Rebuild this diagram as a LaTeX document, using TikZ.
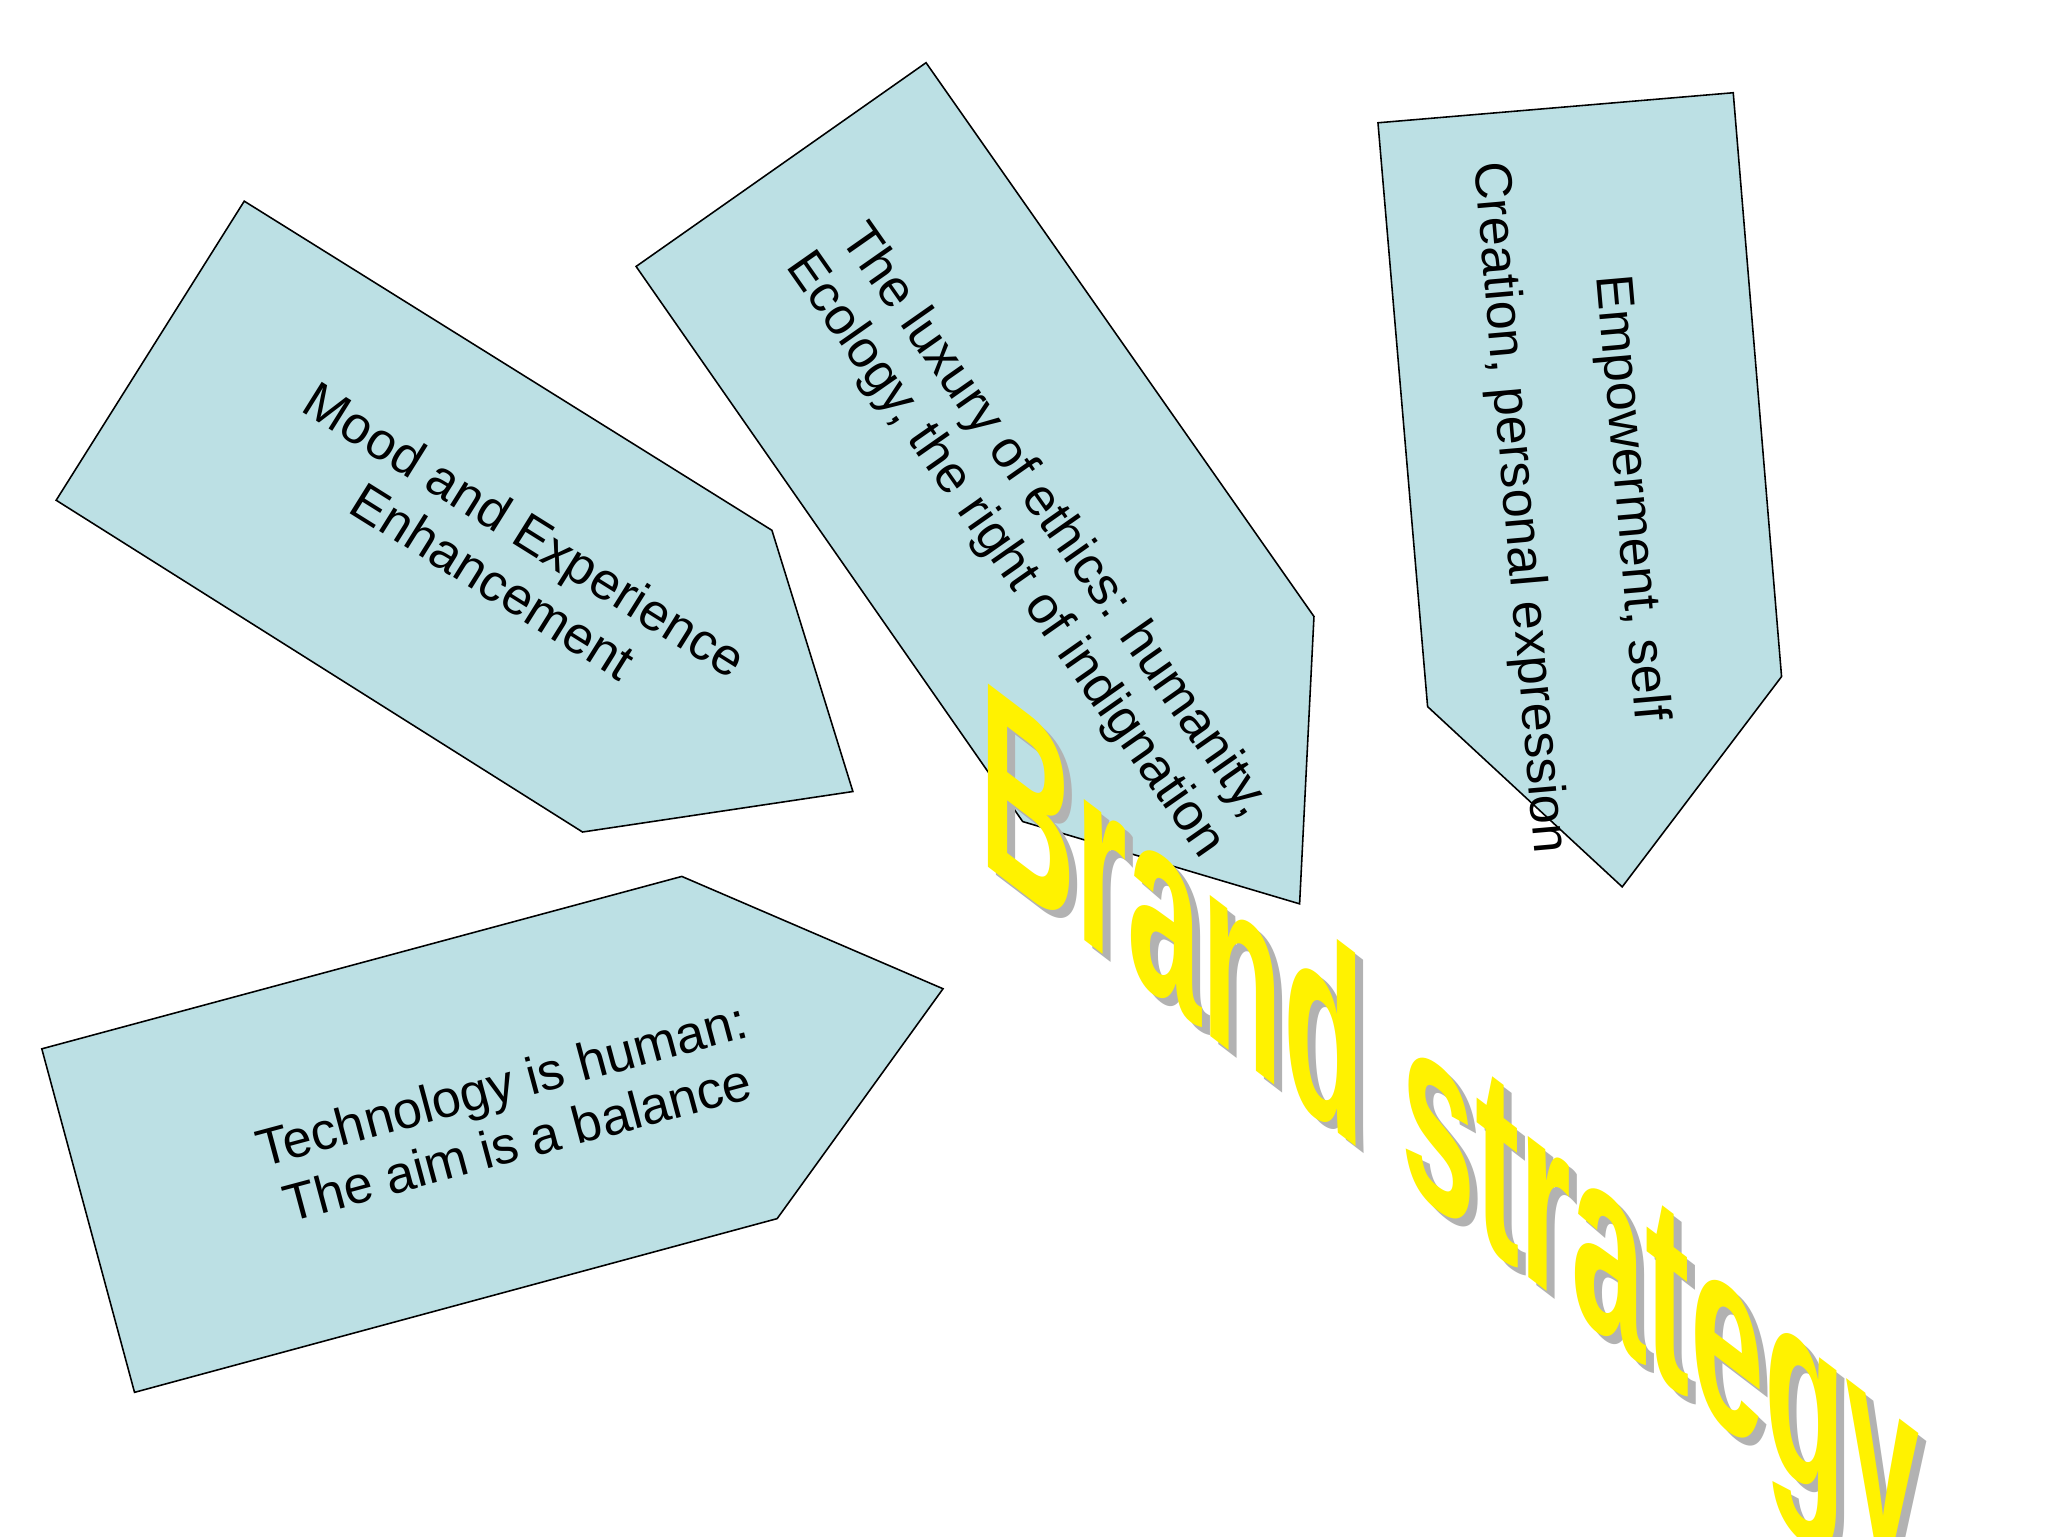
\documentclass[tikz,border=0pt]{standalone}
\usepackage{fontspec}
\setmainfont{Liberation Sans}
\begin{document}
\begin{tikzpicture}[x=1pt,y=-1pt,
  arrowshape/.style={draw=black,line width=1.2pt,fill=bluegray},
  lbl/.style={font=\fontsize{40}{46}\selectfont,align=center},
  brand/.style={font=\fontsize{120}{120}\selectfont\bfseries,xscale=0.85,yscale=1.7,yslant=-0.38}]
\definecolor{bluegray}{RGB}{188,224,228}
\useasboundingbox (0,0) rectangle (1568,1176);
\fill[white] (0,0) rectangle (1568,1176);
\draw[arrowshape] (187,154)--(591,406)--(653,606)--(446,637)--(43,383)--cycle;
\draw[arrowshape] (709,48)--(1006,472)--(995,692)--(783,629)--(487,204)--cycle;
\draw[arrowshape] (1055,94)--(1327,71)--(1364,518)--(1242,679)--(1093,541)--cycle;
\draw[arrowshape] (32,803)--(522,671)--(722,757)--(595,933)--(103,1066)--cycle;
\node[lbl,rotate=-32] (t1) at (390,425) {Mood and Experience\\Enhancement};
\node[lbl,rotate=-55] (t2) at (788,412) {The luxury of ethics: humanity,\\Ecology, the right of indignation};
\node[lbl,rotate=-85] (t3) at (1205,385) {Empowerment, self\\[40pt]Creation, personal expression};
\node[lbl,rotate=15] (t4) at (390,852) {Technology is human:\\The aim is a balance};
\node[brand,text=gray!60] (bs) at (1116,886) {Brand strategy};
\node[brand,text=yellow] (b) at (1110,880) {Brand strategy};
\end{tikzpicture}
\end{document}
